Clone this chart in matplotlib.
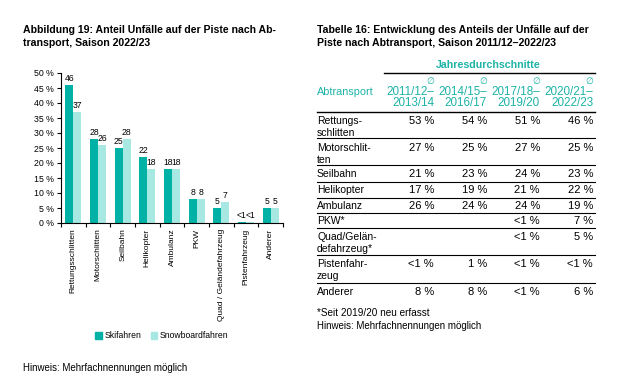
import matplotlib
matplotlib.use("Agg")
import matplotlib.pyplot as plt
import numpy as np
from matplotlib.lines import Line2D

W, H = 643, 379
FONT = ["Liberation Sans", "DejaVu Sans"]
NARROW = ["Liberation Sans Narrow", "Liberation Sans", "DejaVu Sans"]
plt.rcParams['font.family'] = FONT

# ---------------- data: chart ----------------
categories = ["Rettungsschlitten", "Motorschlitten", "Seilbahn", "Helikopter", "Ambulanz",
              "PKW", "Quad / Geländefahrzeug", "Pistenfahrzeug", "Anderer"]
ski = [46, 28, 25, 22, 18, 8, 5, 0.2, 5]
snow = [37, 26, 28, 18, 18, 8, 7, 0.2, 5]
ski_labels = ["46", "28", "25", "22", "18", "8", "5", "<1", "5"]
snow_labels = ["37", "26", "28", "18", "18", "8", "7", "<1", "5"]
yticks = [0, 5, 10, 15, 20, 25, 30, 35, 40, 45, 50]

# ---------------- data: table ----------------
row_labels = [["Rettungs-", "schlitten"], ["Motorschlit-", "ten"], ["Seilbahn"], ["Helikopter"],
              ["Ambulanz"], ["PKW*"], ["Quad/Gelän-", "defahrzeug*"], ["Pistenfahr-", "zeug"],
              ["Anderer"]]
col_p1 = ["2011/12–", "2014/15–", "2017/18–", "2020/21–"]
col_p2 = ["2013/14", "2016/17", "2019/20", "2022/23"]
v_2011 = ["53 %", "27 %", "21 %", "17 %", "26 %", "", "", "<1 %", "8 %"]
v_2014 = ["54 %", "25 %", "23 %", "19 %", "24 %", "", "", "1 %", "8 %"]
v_2017 = ["51 %", "27 %", "24 %", "21 %", "24 %", "<1 %", "<1 %", "<1 %", "<1 %"]
v_2020 = ["46 %", "25 %", "23 %", "22 %", "19 %", "7 %", "5 %", "<1 %", "6 %"]

DARK = "#00B2A6"
LIGHT = "#A8E8E2"
TEAL_TXT = "#1DB3A7"

fig = plt.figure(figsize=(W / 100, H / 100), dpi=100)

def fx(x):
    return x / W

def fy(y):
    return 1 - y / H

# ---------------- left chart ----------------
ax_l, ax_r, ax_t, ax_b = 61, 283, 73, 223
ax = fig.add_axes([fx(ax_l), fy(ax_b), fx(ax_r - ax_l), (ax_b - ax_t) / H])
x = np.arange(len(categories))
bw = 0.33
ax.bar(x - bw / 2, ski, bw, color=DARK, label="Skifahren")
ax.bar(x + bw / 2, snow, bw, color=LIGHT, label="Snowboardfahren")
for i in range(len(categories)):
    ax.text(x[i] - bw / 2, ski[i] + 0.8, ski_labels[i], ha="center", va="bottom",
            fontsize=6.2, family=NARROW)
    ax.text(x[i] + bw / 2, snow[i] + 0.8, snow_labels[i], ha="center", va="bottom",
            fontsize=6.2, family=NARROW)
ax.set_xlim(-0.5, len(categories) - 0.5)
ax.set_ylim(0, 50)
ax.set_yticks(yticks)
ax.set_yticklabels([f"{t} %" for t in yticks], family=NARROW, fontsize=6.3)
ax.set_xticks(np.arange(len(categories) + 1) - 0.5, minor=False)
ax.set_xticklabels([])
ax.set_xticks(x, minor=True)
ax.set_xticklabels(categories, minor=True, rotation=90, fontsize=6, family=NARROW, va="top")
ax.tick_params(axis="x", which="minor", length=0, pad=4)
ax.tick_params(axis="x", which="major", length=3, width=0.8, direction="out")
ax.tick_params(axis="y", length=3, width=0.8, pad=2)
for s in ["top", "right"]:
    ax.spines[s].set_visible(False)
for s in ["left", "bottom"]:
    ax.spines[s].set_linewidth(0.8)
ax.patch.set_alpha(0)

leg = fig.legend(handles=[plt.Rectangle((0, 0), 1, 1, color=DARK),
                          plt.Rectangle((0, 0), 1, 1, color=LIGHT)],
                 labels=["Skifahren", "Snowboardfahren"], loc="center",
                 bbox_to_anchor=(fx(162), fy(336)), ncol=2, frameon=False,
                 prop={"family": NARROW, "size": 6.2}, handlelength=0.75, handleheight=0.75,
                 handletextpad=0.3, columnspacing=1.1)

fig.text(fx(23), fy(30), "Abbildung 19: Anteil Unfälle auf der Piste nach Ab-",
         fontsize=7.6, weight="bold", va="center", ha="left")
fig.text(fx(23), fy(43), "transport, Saison 2022/23",
         fontsize=7.6, weight="bold", va="center", ha="left")
fig.text(fx(23), fy(368), "Hinweis: Mehrfachnennungen möglich", fontsize=7,
         va="center", ha="left")

# ---------------- right table ----------------
tx0 = 317
fig.text(fx(tx0), fy(30), "Tabelle 16: Entwicklung des Anteils der Unfälle auf der",
         fontsize=7.6, weight="bold", va="center", ha="left")
fig.text(fx(tx0), fy(43), "Piste nach Abtransport, Saison 2011/12–2022/23",
         fontsize=7.6, weight="bold", va="center", ha="left")

fig.text(fx(488), fy(65), "Jahresdurchschnitte", fontsize=7.7, weight="bold",
         color=TEAL_TXT, ha="center", va="center")
fig.add_artist(Line2D([fx(384), fx(595)], [fy(73), fy(73)], color="black", lw=1.0,
                      transform=fig.transFigure))
fig.text(fx(tx0), fy(92), "Abtransport", fontsize=7.8, color=TEAL_TXT, ha="left", va="center")
col_right = [434, 487, 540, 593]
for j, cx in enumerate(col_right):
    fig.text(fx(cx), fy(81), "∅", fontsize=6.5, color=TEAL_TXT, ha="right", va="center",
             family=["DejaVu Sans"])
    fig.text(fx(cx), fy(92), col_p1[j], fontsize=8.4, color=TEAL_TXT, ha="right", va="center")
    fig.text(fx(cx), fy(103), col_p2[j], fontsize=8.4, color=TEAL_TXT, ha="right", va="center")
fig.add_artist(Line2D([fx(tx0), fx(595)], [fy(112), fy(112)], color="black", lw=1.0,
                      transform=fig.transFigure))

row_y = [121, 148, 174, 190, 206, 221, 237, 264, 292]
line_y = [138, 165, 182, 198, 213, 228, 255, 283]
cols = [v_2011, v_2014, v_2017, v_2020]
for i, lab in enumerate(row_labels):
    for k, part in enumerate(lab):
        fig.text(fx(tx0), fy(row_y[i] + 12 * k), part, fontsize=7.5, ha="left", va="center")
    for j, cx in enumerate(col_right):
        if cols[j][i]:
            fig.text(fx(cx), fy(row_y[i]), cols[j][i], fontsize=8.0, ha="right", va="center")
for ly in line_y:
    fig.add_artist(Line2D([fx(tx0), fx(595)], [fy(ly), fy(ly)], color="black", lw=0.8,
                          transform=fig.transFigure))

fig.text(fx(tx0), fy(313), "*Seit 2019/20 neu erfasst", fontsize=7.2, ha="left", va="center")
fig.text(fx(tx0), fy(326), "Hinweis: Mehrfachnennungen möglich", fontsize=7.0, ha="left",
         va="center")

fig.savefig("out.png", dpi=100)
